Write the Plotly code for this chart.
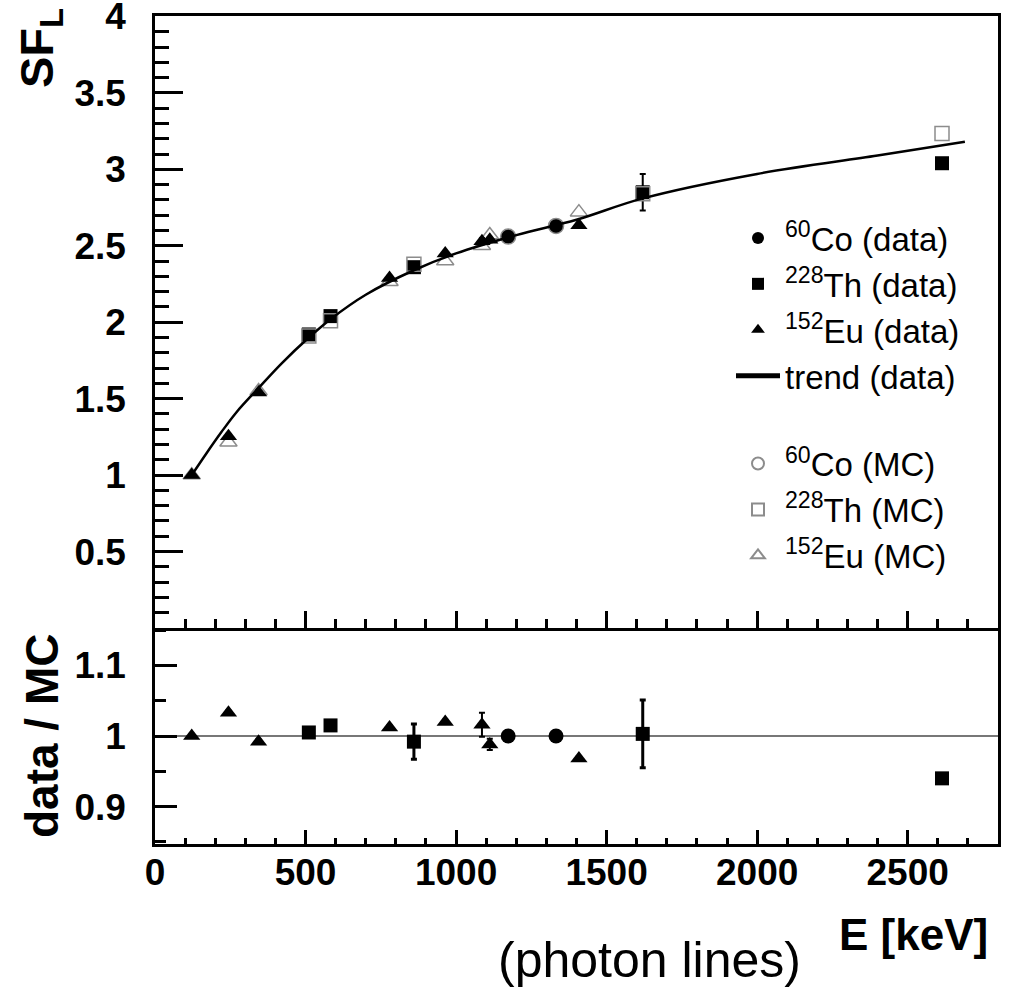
import plotly.graph_objects as go

# ---------------- data ----------------
# photon line energies (keV)
co_E = [1173, 1332]
th_E = [511, 583, 860, 1620, 2614]
eu_E = [122, 244, 344, 779, 964, 1086, 1112, 1408]

# SF_L measured (data)
co_sf = [2.56, 2.63]
co_sf_err = [0.01, 0.01]
th_sf = [1.92, 2.04, 2.36, 2.85, 3.04]
th_sf_err = [0.02, 0.02, 0.03, 0.12, 0.02]
eu_sf = [1.00, 1.255, 1.54, 2.29, 2.45, 2.53, 2.54, 2.635]
eu_sf_err = [0.01, 0.01, 0.01, 0.01, 0.01, 0.02, 0.01, 0.01]

# SF_L simulated (MC)
co_mc = [2.56, 2.63]
th_mc = [1.91, 2.01, 2.38, 2.84, 3.235]
eu_mc = [1.00, 1.215, 1.55, 2.265, 2.40, 2.50, 2.57, 2.72]

# trend (data)
trend_E = [122, 170, 220, 270, 344, 420, 511, 583, 700, 860, 1000, 1200, 1400, 1620, 2000, 2400, 2690]
trend_sf = [1.00, 1.14, 1.28, 1.41, 1.57, 1.73, 1.90, 2.02, 2.18, 2.34, 2.45, 2.57, 2.67, 2.81, 2.97, 3.09, 3.18]

# data / MC ratios
co_ratio = [1.000, 1.000]
co_ratio_err = [0.003, 0.003]
th_ratio = [1.005, 1.015, 0.992, 1.003, 0.940]
th_ratio_err = [0.007, 0.004, 0.025, 0.048, 0.007]
eu_ratio = [1.000, 1.033, 0.992, 1.012, 1.020, 1.016, 0.988, 0.968]
eu_ratio_err = [0.003, 0.003, 0.003, 0.003, 0.003, 0.017, 0.008, 0.003]

ref_E = [0, 2800]
ref_ratio = [1.0, 1.0]

x_ticks = [0, 500, 1000, 1500, 2000, 2500]
y_ticks = [0.5, 1, 1.5, 2, 2.5, 3, 3.5, 4]
y_tick_text = ["0.5", "1", "1.5", "2", "2.5", "3", "3.5", "4"]
r_ticks = [0.9, 1.0, 1.1]
r_tick_text = ["0.9", "1", "1.1"]

# ---------------- style ----------------
FONT = "Liberation Sans, Arial, Helvetica, sans-serif"
BLACK = "black"
GRAY = "#8c8c8c"
MSIZE = 15

fig = go.Figure()


def err(arr, w=2):
    return dict(type="data", array=arr, visible=True, color=BLACK, thickness=w, width=3)


# --- top panel ---
fig.add_trace(go.Scatter(x=co_E, y=co_sf, mode="markers", name="<sup>60</sup>Co (data)",
                         legendgroup="data", error_y=err(co_sf_err),
                         marker=dict(symbol="circle", size=MSIZE, color=BLACK),
                         xaxis="x", yaxis="y"))
fig.add_trace(go.Scatter(x=th_E, y=th_sf, mode="markers", name="<sup>228</sup>Th (data)",
                         legendgroup="data", error_y=err(th_sf_err),
                         marker=dict(symbol="square", size=MSIZE - 1, color=BLACK),
                         xaxis="x", yaxis="y"))
fig.add_trace(go.Scatter(x=co_E, y=co_mc, mode="markers", name="<sup>60</sup>Co (MC)",
                         legendgroup="mc",
                         marker=dict(symbol="circle-open", size=MSIZE, color=GRAY,
                                     line=dict(width=1.5, color=GRAY)),
                         xaxis="x", yaxis="y"))
fig.add_trace(go.Scatter(x=th_E, y=th_mc, mode="markers", name="<sup>228</sup>Th (MC)",
                         legendgroup="mc",
                         marker=dict(symbol="square-open", size=MSIZE - 1, color=GRAY,
                                     line=dict(width=1.5, color=GRAY)),
                         xaxis="x", yaxis="y"))
fig.add_trace(go.Scatter(x=eu_E, y=eu_mc, mode="markers", name="<sup>152</sup>Eu (MC)",
                         legendgroup="mc",
                         marker=dict(symbol="triangle-up-open", size=MSIZE, color=GRAY,
                                     line=dict(width=1.5, color=GRAY)),
                         xaxis="x", yaxis="y"))
fig.add_trace(go.Scatter(x=eu_E, y=eu_sf, mode="markers", name="<sup>152</sup>Eu (data)",
                         legendgroup="data", error_y=err(eu_sf_err),
                         marker=dict(symbol="triangle-up", size=MSIZE, color=BLACK),
                         xaxis="x", yaxis="y"))
fig.add_trace(go.Scatter(x=trend_E, y=trend_sf, mode="lines", name="trend (data)",
                         legendgroup="data", line=dict(color=BLACK, width=2.5, shape="spline", smoothing=1.0),
                         xaxis="x", yaxis="y"))

# --- bottom panel: ratios ---
fig.add_trace(go.Scatter(x=ref_E, y=ref_ratio, mode="lines", showlegend=False,
                         line=dict(color="#777777", width=2), hoverinfo="skip",
                         xaxis="x2", yaxis="y2"))
fig.add_trace(go.Scatter(x=co_E, y=co_ratio, mode="markers", showlegend=False,
                         error_y=err(co_ratio_err),
                         marker=dict(symbol="circle", size=MSIZE, color=BLACK),
                         xaxis="x2", yaxis="y2"))
fig.add_trace(go.Scatter(x=th_E, y=th_ratio, mode="markers", showlegend=False,
                         error_y=err(th_ratio_err, 3),
                         marker=dict(symbol="square", size=MSIZE - 1, color=BLACK),
                         xaxis="x2", yaxis="y2"))
fig.add_trace(go.Scatter(x=eu_E, y=eu_ratio, mode="markers", showlegend=False,
                         error_y=err(eu_ratio_err),
                         marker=dict(symbol="triangle-up", size=MSIZE, color=BLACK),
                         xaxis="x2", yaxis="y2"))

# ---------------- layout ----------------
L, R, T, B = 155, 14, 16, 143
W, H = 1012, 987
plot_h = H - T - B
split = 216 / plot_h

axis_common = dict(showline=True, linecolor=BLACK, linewidth=2.5, mirror=True,
                   ticks="inside", tickcolor=BLACK, tickwidth=2.5, showgrid=False,
                   zeroline=False, ticklabeloverflow="allow",
                   tickfont=dict(family=FONT, size=37, color=BLACK, weight="bold"))

fig.update_layout(
    width=W, height=H,
    margin=dict(l=L, r=R, t=T, b=B, autoexpand=False),
    paper_bgcolor="white", plot_bgcolor="white",
    font=dict(family=FONT, color=BLACK),
    showlegend=True,
    legend=dict(x=(731 - L) / (W - L - R), y=(H - B - 210) / plot_h, xanchor="left", yanchor="top",
                bgcolor="rgba(0,0,0,0)", borderwidth=0,
                font=dict(family=FONT, size=33, color=BLACK),
                traceorder="grouped", tracegroupgap=42, itemsizing="constant", itemwidth=44),
    xaxis=dict(axis_common, domain=[0, 1], range=[0, 2800], anchor="y",
               tickvals=x_ticks, showticklabels=False, ticklen=17,
               minor=dict(dtick=100, ticklen=9, ticks="inside", tickcolor=BLACK, tickwidth=2.5)),
    yaxis=dict(axis_common, domain=[split, 1], range=[0, 4.003], anchor="x",
               tickvals=y_ticks, ticktext=y_tick_text, ticklen=28,
               minor=dict(dtick=0.1, ticklen=14, ticks="inside", tickcolor=BLACK, tickwidth=2.5),
               ticklabelstandoff=19),
    xaxis2=dict(axis_common, domain=[0, 1], range=[0, 2800], anchor="y2", matches="x",
                mirror=False, tickvals=x_ticks, ticklen=14,
                minor=dict(dtick=100, ticklen=6, ticks="inside", tickcolor=BLACK, tickwidth=2.5),
                ticklabelstandoff=-6),
    yaxis2=dict(axis_common, domain=[0, split], range=[0.847, 1.153], anchor="x2",
                tickvals=r_ticks, ticktext=r_tick_text, ticklen=22,
                minor=dict(dtick=0.05, ticklen=11, ticks="inside", tickcolor=BLACK, tickwidth=2.5),
                ticklabelstandoff=19),
)

# axis titles
fig.add_annotation(text="<b>SF<sub>L</sub></b>", xref="paper", yref="paper", x=0, y=1,
                   xanchor="center", yanchor="top", xshift=40 - L, yshift=10, textangle=-90,
                   showarrow=False, font=dict(family=FONT, size=47, color=BLACK))
fig.add_annotation(text="<b>data / MC</b>", xref="paper", yref="y2 domain", x=0, y=0.5,
                   xanchor="center", yanchor="middle", xshift=42 - L, textangle=-90,
                   showarrow=False, font=dict(family=FONT, size=46, color=BLACK))
fig.add_annotation(text="<b>E [keV]</b>", xref="paper", yref="paper", x=1, y=0,
                   xanchor="right", yanchor="middle", xshift=-8, yshift=-90,
                   showarrow=False, font=dict(family=FONT, size=44, color=BLACK))
fig.add_annotation(text="(photon lines)", xref="paper", yref="paper", x=(649 - L) / (W - L - R), y=0,
                   xanchor="center", yanchor="middle", yshift=-116,
                   showarrow=False, font=dict(family=FONT, size=50, color=BLACK))

fig.write_html("out.html")
